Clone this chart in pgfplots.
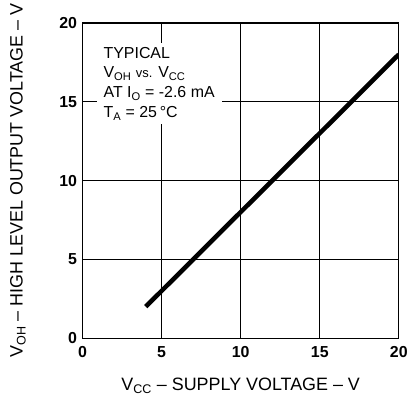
\documentclass[border=0pt]{standalone}
\usepackage{fontspec}
\setmainfont{Liberation Sans}
\usepackage{pgfplots}
\pgfplotsset{compat=1.18}

\begin{document}
\begin{tikzpicture}[x=1pt,y=1pt]
\begin{axis}[
    at={(0,0)}, anchor=south west,
    scale only axis,
    width=318pt, height=317pt,
    xmin=0, xmax=20, ymin=0, ymax=20,
    xtick={0,5,10,15,20}, ytick={0,5,10,15,20},
    grid=major,
    grid style={black, line width=1.1pt},
    axis line style={black, line width=1.3pt},
    major tick length=0pt,
    tick label style={font=\fontsize{16}{16}\selectfont\bfseries},
    /pgf/number format/assume math mode=true,
    xticklabel style={yshift=-5pt},
    yticklabel style={xshift=-2pt},
    xlabel={V\textsubscript{CC} -- SUPPLY VOLTAGE -- V},
    ylabel={V\textsubscript{OH} -- HIGH LEVEL OUTPUT VOLTAGE -- V},
    label style={font=\fontsize{18}{18}\selectfont},
    xlabel style={at={(rel axis cs:0.5,0)}, anchor=center, yshift=-48pt},
    ylabel style={at={(rel axis cs:0,0.5)}, anchor=center, yshift=65pt},
]
\addplot[black, line width=4.6pt, line cap=butt] coordinates {
(4,2)
(20,18)
};
\node[fill=white, anchor=north west, align=left, inner xsep=7pt, inner ysep=4pt,
      font=\fontsize{16}{20}\selectfont] at (axis cs:0.88,18.74)
  {TYPICAL\\
   V\textsubscript{OH} {\fontsize{13}{20}\selectfont vs.} V\textsubscript{CC}\\
   AT I\textsubscript{O} = -2.6 mA\\
   T\textsubscript{A} = 25\,°C};
\end{axis}
\path[use as bounding box] (-83,-60) rectangle (328,340);
\end{tikzpicture}
\end{document}
